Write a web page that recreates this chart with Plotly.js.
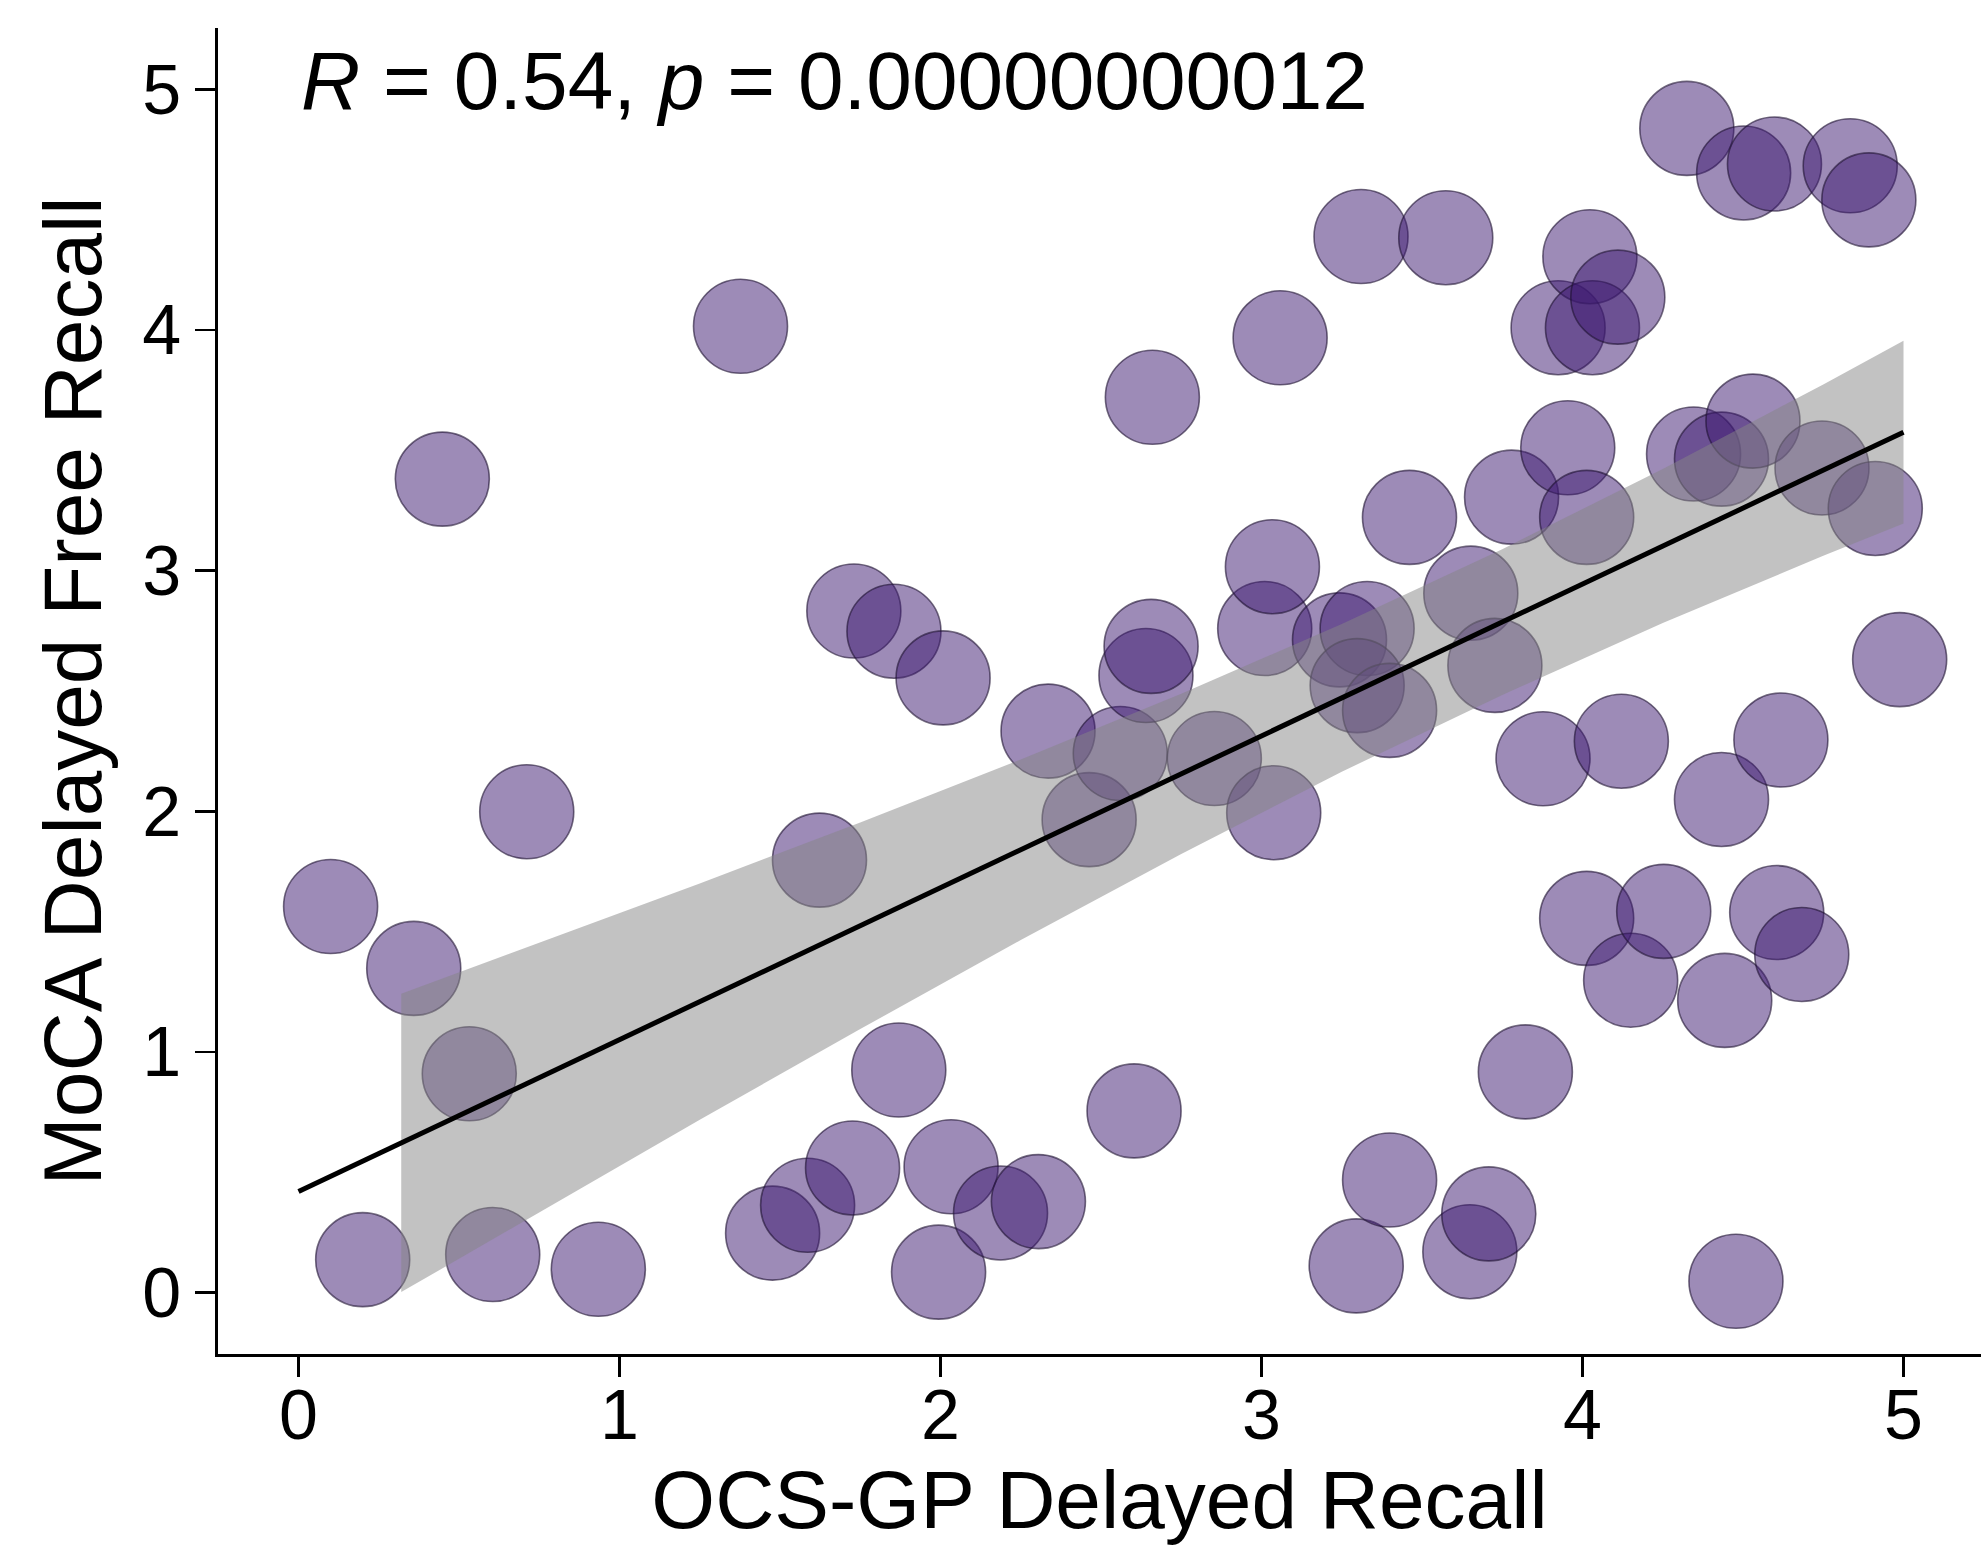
<!DOCTYPE html>
<html>
<head>
<meta charset="utf-8">
<script src="https://cdn.plot.ly/plotly-3.0.1.min.js"></script>
<style>html,body{margin:0;padding:0;background:#fff;}#chart{width:1981px;height:1546px;}</style>
</head>
<body>
<div id="chart"></div>
<script>
// OCS-GP Delayed Recall (x) vs MoCA Delayed Free Recall (y), jittered scores
const ocsGp = [0.100,0.200,0.359,0.448,0.532,0.605,0.711,0.934,1.377,1.477,1.586,1.623,1.726,1.730,1.855,1.870,1.994,2.008,2.033,2.187,2.305,2.335,2.463,2.560,2.603,2.640,2.660,2.656,2.853,3.010,3.034,3.038,3.058,3.243,3.295,3.310,3.329,3.298,3.399,3.399,3.461,3.574,3.649,3.652,3.708,3.727,3.779,3.822,3.877,3.924,3.954,4.013,4.013,4.023,4.031,4.110,4.121,4.150,4.253,4.325,4.346,4.433,4.433,4.443,4.478,4.502,4.531,4.598,4.605,4.618,4.683,4.746,4.834,4.892,4.912,4.988];
const moca  = [1.604,0.137,1.347,3.380,0.909,0.158,1.998,0.097,4.015,0.247,0.363,1.797,0.518,2.832,2.748,0.925,0.085,2.554,0.523,0.331,0.378,2.333,1.965,2.240,0.755,2.564,3.720,2.685,2.219,2.759,3.016,1.994,3.967,2.712,0.111,4.388,2.759,2.522,2.419,0.468,3.221,4.383,0.170,2.906,0.327,2.606,3.305,0.917,2.218,4.009,3.510,3.221,1.555,4.304,4.009,4.136,2.291,1.298,1.584,4.837,3.484,3.463,2.049,1.214,0.047,4.652,3.621,4.689,1.579,2.296,1.405,3.426,4.682,4.540,3.258,2.630];

// fitted regression line (read at its ends)
const fitX = [0, 5];
const fitY = [0.42, 3.575];

// confidence band read along x
const bandX     = [0.32, 0.75, 1.25, 1.75, 2.25, 2.75, 3.25, 3.75, 4.25, 4.75, 5.0];
const bandLower = [0.002, 0.334, 0.718, 1.095, 1.465, 1.822, 2.164, 2.483, 2.782, 3.061, 3.195];
const bandUpper = [1.242, 1.452, 1.700, 1.953, 2.215, 2.488, 2.778, 3.089, 3.422, 3.773, 3.955];

const xTicks = [0, 1, 2, 3, 4, 5];
const yTicks = [0, 1, 2, 3, 4, 5];
const statText = '<i>R</i> = 0.54, <i>p</i> = 0.00000000012';

const FONT = 'Liberation Sans, Arial, Helvetica, sans-serif';

const points = {
  x: ocsGp, y: moca, type: 'scatter', mode: 'markers', hoverinfo: 'skip',
  marker: {size: 94, color: 'rgba(59,23,111,0.5)', line: {color: 'rgba(30,18,50,0.62)', width: 1.6}}
};
const band = {
  x: bandX.concat(bandX.slice().reverse()),
  y: bandLower.concat(bandUpper.slice().reverse()),
  type: 'scatter', mode: 'lines', fill: 'toself',
  fillcolor: 'rgba(133,133,133,0.5)', line: {width: 0}, hoverinfo: 'skip'
};
const fit = {
  x: fitX, y: fitY, type: 'scatter', mode: 'lines', hoverinfo: 'skip',
  line: {color: '#000000', width: 5}
};

const axisCommon = {
  showgrid: false, zeroline: false, showline: true, linecolor: '#000', linewidth: 2.7,
  ticks: 'outside', ticklen: 20, tickwidth: 2.7, tickcolor: '#000',
  tickfont: {family: FONT, size: 70, color: '#000'}, automargin: false
};

const layout = {
  width: 1981, height: 1546,
  paper_bgcolor: '#fff', plot_bgcolor: '#fff',
  showlegend: false,
  margin: {l: 218, r: 0, t: 28, b: 192, pad: 0},
  xaxis: Object.assign({}, axisCommon, {
    range: [-0.2508, 5.2414], tickvals: xTicks, ticktext: xTicks.map(String),
    ticklabelstandoff: -22,
    title: {text: 'OCS-GP Delayed Recall', font: {family: FONT, size: 82, color: '#000'}, standoff: 14}
  }),
  yaxis: Object.assign({}, axisCommon, {
    range: [-0.2551, 5.2542], tickvals: yTicks, ticktext: yTicks.map(String),
    title: {text: 'MoCA Delayed Free Recall', font: {family: FONT, size: 82, color: '#000'}, standoff: 14}
  }),
  annotations: [{
    xref: 'x', yref: 'y', x: 0, y: 5.035, xanchor: 'left', yanchor: 'middle',
    text: statText, showarrow: false, font: {family: FONT, size: 82, color: '#000'}
  }]
};

Plotly.newPlot('chart', [points, band, fit], layout, {displayModeBar: false, staticPlot: true});
</script>
</body>
</html>
